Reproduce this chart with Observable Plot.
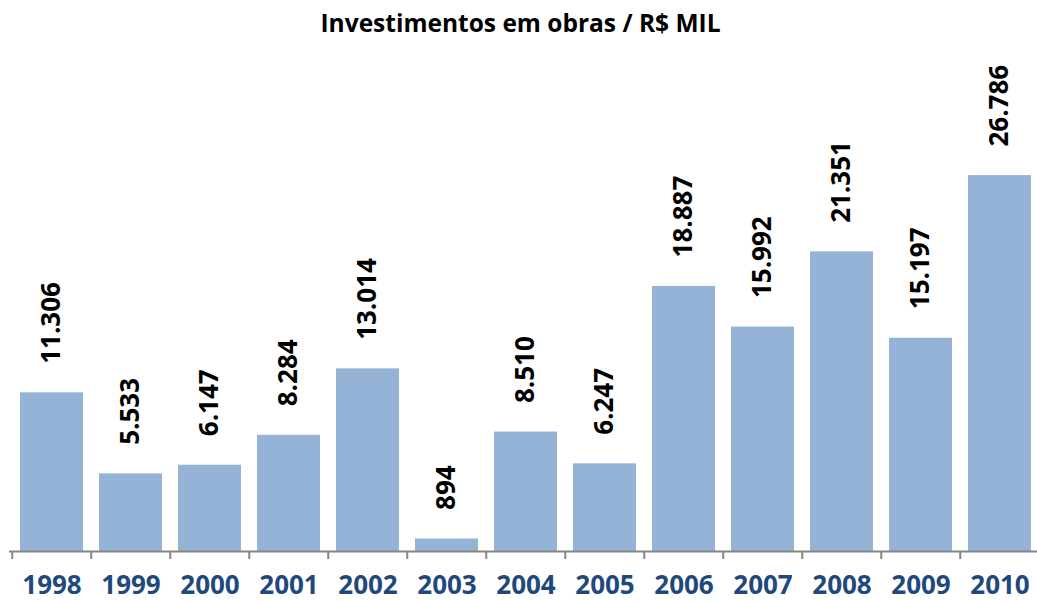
<!DOCTYPE html>
<html>
<head>
<meta charset="utf-8">
<script src="https://cdn.jsdelivr.net/npm/d3@7"></script>
<script src="https://cdn.jsdelivr.net/npm/@observablehq/plot@0.6"></script>
<style>
  html, body { margin: 0; padding: 0; background: #fff; }
  #title { height: 40px; line-height: 46px; text-align: center; font-family: "Open Sans", sans-serif; font-weight: 700; font-size: 24.5px; color: #000; overflow: visible; padding-left: 4px; }
  #chart svg { display: block; overflow: visible; }
</style>
</head>
<body>
<div id="title">Investimentos em obras / R$ MIL</div>
<div id="chart"></div>
<script>
const years = ["1998","1999","2000","2001","2002","2003","2004","2005","2006","2007","2008","2009","2010"];
const values = [11306, 5533, 6147, 8284, 13014, 894, 8510, 6247, 18887, 15992, 21351, 15197, 26786];

const data = years.map((year, i) => ({year, value: values[i]}));
const fmt = v => d3.format(",")(v).replace(/,/g, ".");

const plot = Plot.plot({
  width: 1037,
  height: 561,
  marginTop: 90,
  marginBottom: 50,
  marginLeft: 9,
  marginRight: -5.5,
  style: { fontFamily: "Open Sans, sans-serif", background: "white" },
  x: { domain: years, paddingInner: 0.2, paddingOuter: 0.1, axis: null, label: null },
  y: { domain: [0, 30000], axis: null },
  marks: [
    Plot.barY(data, { x: "year", y: "value", fill: "#95B3D7" }),
    Plot.ruleY([0], { stroke: "#868686", strokeWidth: 2 }),
    Plot.axisX({ tickSize: 8, dx: -39.75, stroke: "#868686", strokeWidth: 2, text: null, label: null, tickPadding: 0 }),
    Plot.text(data, {
      x: "year", y: "value", text: d => fmt(d.value),
      rotate: -90, textAnchor: "start", lineAnchor: "middle",
      dy: -29, fontSize: 26, fontWeight: 700, fill: "#000"
    }),
    Plot.text(years, {
      x: d => d, frameAnchor: "bottom", lineAnchor: "middle", dy: 34,
      fontSize: 26, fontWeight: 700, fill: "#1F497D"
    })
  ]
});
document.getElementById("chart").appendChild(plot);
</script>
</body>
</html>
